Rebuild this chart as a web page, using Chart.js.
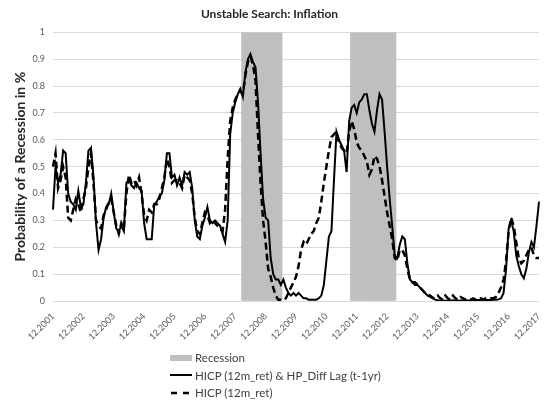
<!DOCTYPE html>
<html>
<head>
<meta charset="utf-8">
<script src="https://cdn.jsdelivr.net/npm/chart.js@4.4.1/dist/chart.umd.min.js"></script>
<style>
  body { margin: 0; background: #fff; }
  #wrap { position: relative; width: 545px; height: 407px; }
  #chart { position: absolute; left: 0; top: 0; }
  #legend { position: absolute; left: 170px; top: 349px; font: 11.5px Lato, sans-serif; color: #404040; }
  .row { height: 17.5px; line-height: 17.5px; display: flex; align-items: center; }
  .row svg { margin-right: 3px; }
</style>
</head>
<body>
<div id="wrap">
  <canvas id="chart" width="545" height="407"></canvas>
  <div id="legend"></div>
</div>
<script>
// x-axis labels shown (December of each year)
const tickLabels = ['12.2001', '12.2002', '12.2003', '12.2004', '12.2005', '12.2006', '12.2007', '12.2008',
    '12.2009', '12.2010', '12.2011', '12.2012', '12.2013', '12.2014', '12.2015', '12.2016', '12.2017'];

// recession periods (first and last month)
const recessions = [['03.2008', '06.2009'], ['10.2011', '03.2013']];

// HICP (12m_ret) & HP_Diff Lag (t-1yr), monthly from 12.2001
const hicpHp = [
    0.34,
    0.50, 0.44, 0.47, 0.56, 0.55, 0.40, 0.37, 0.36, 0.34, 0.41, 0.35, 0.36,
    0.44, 0.56, 0.57, 0.46, 0.29, 0.19, 0.23, 0.31, 0.35, 0.36, 0.40, 0.33,
    0.27, 0.26, 0.28, 0.26, 0.44, 0.45, 0.43, 0.42, 0.44, 0.42, 0.41, 0.29,
    0.23, 0.23, 0.23, 0.36, 0.37, 0.39, 0.40, 0.45, 0.55, 0.55, 0.46, 0.47,
    0.43, 0.46, 0.43, 0.48, 0.47, 0.48, 0.42, 0.30, 0.24, 0.23, 0.28, 0.31,
    0.35, 0.30, 0.29, 0.30, 0.29, 0.28, 0.25, 0.22, 0.30, 0.62, 0.70, 0.74,
    0.77, 0.79, 0.76, 0.85, 0.90, 0.92, 0.89, 0.87, 0.74, 0.55, 0.38, 0.31,
    0.30, 0.16, 0.10, 0.08, 0.08, 0.06, 0.08, 0.05, 0.03, 0.02, 0.03, 0.02,
    0.03, 0.02, 0.01, 0.01, 0.005, 0.005, 0.005, 0.005, 0.01, 0.02, 0.06, 0.15,
    0.24, 0.26, 0.45, 0.63, 0.60, 0.58, 0.56, 0.48, 0.67, 0.72, 0.73, 0.70,
    0.74, 0.75, 0.77, 0.77, 0.71, 0.66, 0.63, 0.71, 0.77, 0.75, 0.63, 0.50,
    0.38, 0.28, 0.17, 0.16, 0.21, 0.24, 0.23, 0.14, 0.08, 0.07, 0.06, 0.06,
    0.05, 0.04, 0.03, 0.02, 0.015, 0.01, 0.005, 0.003, 0.002, 0.002, 0.001, 0.002,
    0.002, 0.003, 0.002, 0.001, 0.002, 0.002, 0.003, 0.002, 0.002, 0.003, 0.004, 0.004,
    0.003, 0.004, 0.005, 0.004, 0.004, 0.005, 0.005, 0.006, 0.01, 0.03, 0.12, 0.27,
    0.30, 0.26, 0.17, 0.13, 0.10, 0.085, 0.12, 0.18, 0.22, 0.20, 0.28, 0.37
];

// HICP (12m_ret), monthly from 12.2001
const hicp = [
    0.50,
    0.55, 0.42, 0.45, 0.50, 0.46, 0.31, 0.30, 0.34, 0.38, 0.36, 0.33, 0.38,
    0.42, 0.50, 0.55, 0.44, 0.30, 0.28, 0.27, 0.32, 0.34, 0.37, 0.38, 0.33,
    0.28, 0.25, 0.29, 0.27, 0.40, 0.47, 0.44, 0.45, 0.43, 0.46, 0.40, 0.32,
    0.30, 0.34, 0.33, 0.36, 0.36, 0.38, 0.42, 0.46, 0.53, 0.50, 0.44, 0.45,
    0.45, 0.44, 0.42, 0.47, 0.46, 0.45, 0.40, 0.31, 0.26, 0.25, 0.29, 0.33,
    0.32, 0.29, 0.30, 0.29, 0.28, 0.27, 0.26, 0.34, 0.53, 0.67, 0.72, 0.75,
    0.77, 0.78, 0.77, 0.84, 0.89, 0.91, 0.88, 0.82, 0.62, 0.44, 0.30, 0.22,
    0.12, 0.09, 0.05, 0.02, 0.005, 0.005, 0.002, 0.01, 0.03, 0.05, 0.07, 0.09,
    0.13, 0.19, 0.22, 0.21, 0.23, 0.25, 0.26, 0.29, 0.31, 0.37, 0.44, 0.50,
    0.56, 0.61, 0.62, 0.63, 0.59, 0.57, 0.56, 0.55, 0.63, 0.67, 0.64, 0.59,
    0.57, 0.56, 0.54, 0.52, 0.47, 0.49, 0.54, 0.53, 0.50, 0.45, 0.39, 0.33,
    0.28, 0.23, 0.16, 0.15, 0.19, 0.19, 0.17, 0.12, 0.08, 0.07, 0.07, 0.06,
    0.05, 0.04, 0.03, 0.025, 0.02, 0.012, 0.01, 0.02, 0.01, 0.005, 0.02, 0.01,
    0.005, 0.02, 0.01, 0.005, 0.015, 0.01, 0.005, 0.01, 0.005, 0.01, 0.005, 0.01,
    0.01, 0.005, 0.01, 0.01, 0.01, 0.01, 0.015, 0.03, 0.05, 0.08, 0.15, 0.26,
    0.31, 0.28, 0.22, 0.16, 0.14, 0.15, 0.17, 0.19, 0.20, 0.17, 0.16, 0.16
];

// monthly categories 12.2001 .. 12.2017
const months = [];
for (let y = 2001; y <= 2017; y++) {
    for (let m = 1; m <= 12; m++) {
        if (y === 2001 && m < 12) continue;
        months.push(String(m).padStart(2, '0') + '.' + y);
    }
}

const recessionData = months.map(() => null);
recessions.forEach(([from, to]) => {
    const a = months.indexOf(from), b = months.indexOf(to);
    for (let i = a; i <= b; i++) recessionData[i] = 1;
});

const FONT = 'Lato, sans-serif';

const chart = new Chart(document.getElementById('chart'), {
    type: 'line',
    data: {
        labels: months,
        datasets: [{
            type: 'bar',
            label: 'Recession',
            data: recessionData,
            backgroundColor: '#bfbfbf',
            barPercentage: 1,
            categoryPercentage: 1,
            order: 3
        }, {
            label: 'HICP (12m_ret) & HP_Diff Lag (t-1yr)',
            data: hicpHp,
            borderColor: '#000',
            borderWidth: 2,
            pointRadius: 0,
            tension: 0,
            order: 1
        }, {
            label: 'HICP (12m_ret)',
            data: hicp,
            borderColor: '#000',
            borderWidth: 2.5,
            borderDash: [7, 4],
            pointRadius: 0,
            tension: 0,
            order: 2
        }]
    },
    options: {
        responsive: false,
        animation: false,
        layout: { padding: { left: 0, right: 6, top: 0, bottom: 0 } },
        plugins: {
            legend: { display: false },
            tooltip: { enabled: false },
            title: {
                display: true,
                text: 'Unstable Search: Inflation',
                color: '#262626',
                font: { family: FONT, size: 12, weight: 'bold' },
                padding: { top: 7, bottom: 11 }
            }
        },
        scales: {
            x: {
                offset: false,
                grid: { display: false },
                border: { display: false },
                ticks: {
                    autoSkip: false,
                    maxRotation: 45,
                    minRotation: 45,
                    padding: 2,
                    color: '#595959',
                    font: { family: FONT, size: 9 },
                    callback: function (val) {
                        const l = this.getLabelForValue(val);
                        return tickLabels.includes(l) ? l : null;
                    }
                },
                afterFit: (scale) => {
                    scale.height = 106;
                    scale.paddingRight = 0;
                }
            },
            y: {
                min: 0,
                max: 1,
                grid: { color: '#d9d9d9', drawTicks: false },
                border: { display: false },
                ticks: {
                    stepSize: 0.1,
                    padding: 8,
                    color: '#595959',
                    font: { family: FONT, size: 9 },
                    callback: (v) => String(Number(v.toFixed(1)))
                },
                title: {
                    display: true,
                    text: 'Probability of a Recession in %',
                    color: '#262626',
                    font: { family: FONT, size: 14, weight: 'bold' },
                    padding: { top: 12, bottom: 0 }
                },
                afterFit: (scale) => { scale.width = 53; }
            }
        }
    }
});

// legend listed vertically under the plot
const legend = document.getElementById('legend');
chart.data.datasets.forEach((ds) => {
    const row = document.createElement('div');
    row.className = 'row';
    let swatch;
    if (ds.type === 'bar') {
        swatch = '<svg width="22" height="8"><rect x="0" y="1" width="22" height="6" fill="#bfbfbf"/></svg>';
    } else if (ds.borderDash) {
        swatch = '<svg width="22" height="8"><line x1="1" y1="4" x2="22" y2="4" stroke="#000" stroke-width="2.5" stroke-dasharray="6,6"/></svg>';
    } else {
        swatch = '<svg width="22" height="8"><line x1="0" y1="4" x2="22" y2="4" stroke="#000" stroke-width="2"/></svg>';
    }
    row.innerHTML = swatch + '<span>' + ds.label + '</span>';
    legend.appendChild(row);
});
</script>
</body>
</html>
